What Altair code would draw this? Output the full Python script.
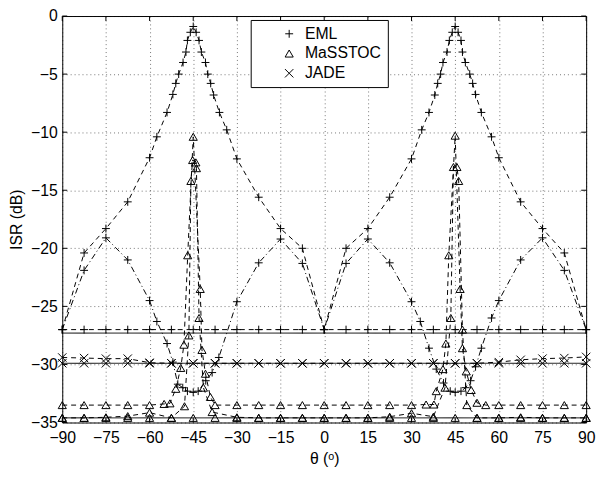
import altair as alt
import pandas as pd

# ---------------- data ----------------
x_ticks = [-90, -75, -60, -45, -30, -15, 0, 15, 30, 45, 60, 75, 90]
y_ticks = [-35, -30, -25, -20, -15, -10, -5, 0]

grid_theta = [-90, -82.5, -75, -67.5, -60, -52.5, -45, -37.5, -30, -22.5, -15, -7.5, 0,
              7.5, 15, 22.5, 30, 37.5, 45, 52.5, 60, 67.5, 75, 82.5, 90]

# EML, curve peaking at +-45 (dashed)
eml_a_theta = [-90, -82.5, -75, -67.5, -60, -57.5, -54, -52, -51, -50, -48.5, -47.5, -47, -46, -45,
               -44, -43, -42.2, -40.8, -40, -39, -38, -36, -33.5, -30, -22.5, -15, -7.5, 0,
               7.5, 15, 22.5, 30, 33.5, 36, 38, 39, 40, 40.8, 42.2, 43, 44, 45,
               46, 47, 47.5, 48.5, 50, 51, 52, 54, 57.5, 60, 67.5, 75, 82.5, 90]
eml_a_isr = [-27, -20.4, -18.3, -16, -12.2, -10.4, -8.3, -6.75, -5.8, -5.0, -4.0, -3.1, -2.1, -1.4, -0.9,
             -1.4, -2.1, -3.1, -4.0, -5.0, -5.8, -6.8, -8.3, -9.8, -12.3, -15.6, -18.3, -20.0, -27,
             -20.0, -18.3, -15.6, -12.3, -9.8, -8.3, -6.8, -5.8, -5.0, -4.0, -3.1, -2.1, -1.4, -0.9,
             -1.4, -2.1, -3.1, -4.0, -5.0, -5.8, -6.75, -8.3, -10.4, -12.2, -16, -18.3, -20.4, -27]

# EML, curve with minima at +-45 (dash-dot)
eml_b_theta = [-90, -82.5, -75, -67.5, -60, -57.5, -54, -52, -50.3, -48.6, -47, -45, -43.3, -40.7,
               -38.5, -36.2, -30, -22.5, -15, -7.5, 0,
               7.5, 15, 22.5, 30, 33, 36, 38.5, 41, 43.3, 45, 47, 48.6, 50.3, 52, 54, 57.5,
               60, 67.5, 75, 82.5, 90]
eml_b_isr = [-27, -21.9, -19.1, -21, -24.5, -26.3, -28.2, -29.8, -31.7, -32.0, -32.3, -32.4, -32.3, -31.4,
             -30.7, -29.4, -24.6, -21.25, -19.2, -21.3, -27,
             -21.3, -19.2, -21.25, -24.6, -26.3, -28.6, -30.4, -31.6, -32.3, -32.4, -32.3, -32.0, -31.4,
             -30.2, -28.6, -26.0, -24.5, -21, -19.1, -21.9, -27]

# EML, flat level (dashed, markers) and solid level
eml_flat_isr = [-27.0, -27.0, -27.0, -27.0, -27.0, -27.0, -27.0, -27.0, -27.0, -27.0, -27.0, -27.0, -27.0,
                -27.0, -27.0, -27.0, -27.0, -27.0, -27.0, -27.0, -27.0, -27.0, -27.0, -27.0, -27.0]
eml_solid_theta = [-90, 90]
eml_solid_isr = [-27.3, -27.3]

# JADE
jade_solid_isr = [-29.9, -29.9, -29.9, -29.9, -29.9, -29.9, -29.9, -29.9, -29.9, -29.9, -29.9, -29.9, -29.9,
                  -29.9, -29.9, -29.9, -29.9, -29.9, -29.9, -29.9, -29.9, -29.9, -29.9, -29.9, -29.9]
jade_dash_isr = [-29.4, -29.45, -29.5, -29.5, -29.85, -29.9, -29.9, -29.9, -29.9, -29.9, -29.9, -29.9, -29.9,
                 -29.9, -29.9, -29.9, -29.9, -29.9, -29.9, -29.9, -29.8, -29.6, -29.5, -29.45, -29.35]

# MaSSTOC
mas_solid_isr = [-34.6, -34.6, -34.6, -34.6, -34.6, -34.6, -34.6, -34.6, -34.6, -34.6, -34.6, -34.6, -34.6,
                 -34.6, -34.6, -34.6, -34.6, -34.6, -34.6, -34.6, -34.6, -34.6, -34.6, -34.6, -34.6]
mas_a_theta = [-90, -82.5, -75, -67.5, -60, -55, -53, -51, -49.3, -48.2, -46.9, -45, -42.6, -42, -40.8,
               -39.1, -37.5, -30, -22.5, -15, -7.5, 0, 7.5, 15, 22.5, 30, 35, 37.7, 38.5, 40.8,
               41.8, 42.8, 45, 46.7, 47.5, 48.8, 50.5, 52.5, 55.5, 60, 67.5, 75, 82.5, 90]
mas_a_isr = [-33.5, -33.5, -33.5, -33.5, -33.5, -33.4, -33.35, -32.1, -30.3, -28.3, -20.6, -10.4, -23.5, -28.75, -30.8,
             -32.8, -33.5, -33.5, -33.5, -33.5, -33.5, -33.5, -33.5, -33.5, -33.5, -33.5, -33.45, -33.45, -32.3, -30.4,
             -28.2, -20.6, -10.3, -23.5, -28.6, -30.6, -32.2, -33.3, -33.5, -33.5, -33.5, -33.5, -33.5, -33.5]
mas_b_theta = [-90, -82.5, -75, -67.5, -60, -52.5, -48, -46.5, -45.8, -45.2, -44.1, -43.9, -43, -41.5, -38.5,
               -30, -22.5, -15, -7.5, 0, 7.5, 15, 22.5, 30, 37.5, 41.5, 43.5, 44.4, 45.6, 46.2,
               47.5, 49, 52.5, 60, 67.5, 75, 82.5, 90]
mas_b_isr = [-34.6, -34.6, -34.55, -34.45, -34.15, -34.6, -33.6, -27.5, -14.2, -12.4, -12.6, -13.1, -26, -32, -34.1,
             -34.55, -34.6, -34.6, -34.6, -34.6, -34.6, -34.6, -34.5, -34.2, -34.5, -32, -26, -13, -13, -14.2,
             -27, -33.5, -34.6, -34.6, -34.55, -34.6, -34.6, -34.6]

methods = ["EML", "MaSSTOC", "JADE"]

series = [
    ("eml_a", "EML", "dashed", eml_a_theta, eml_a_isr, True),
    ("eml_b", "EML", "dashdot", eml_b_theta, eml_b_isr, True),
    ("eml_flat", "EML", "dashed", grid_theta, eml_flat_isr, True),
    ("eml_solid", "EML", "solid", eml_solid_theta, eml_solid_isr, False),
    ("jade_solid", "JADE", "solid", grid_theta, jade_solid_isr, True),
    ("jade_dash", "JADE", "dashed", grid_theta, jade_dash_isr, True),
    ("mas_solid", "MaSSTOC", "solid", grid_theta, mas_solid_isr, True),
    ("mas_a", "MaSSTOC", "dashed", mas_a_theta, mas_a_isr, True),
    ("mas_b", "MaSSTOC", "dashed", mas_b_theta, mas_b_isr, True),
]

rows = []
for sid, method, style, th, vals, mk in series:
    for t, v in zip(th, vals):
        rows.append({"sid": sid, "method": method, "style": style,
                     "theta": t, "isr": v, "mk": mk})
df = pd.DataFrame(rows)
pts_df = df[df["mk"]].copy()

xt_df = pd.DataFrame({"theta": x_ticks})
yt_df = pd.DataFrame({"isr": y_ticks})

# ---------------- chart ----------------
W, H = 531, 412
FONT = "Liberation Sans"

xs = alt.X("theta:Q",
           scale=alt.Scale(domain=[-90, 90], nice=False, zero=False),
           axis=alt.Axis(values=x_ticks, title="θ (ᵒ)", grid=True, ticks=False, domain=False,
                         labelFlush=False, labelOverlap=False, labelPadding=7, titlePadding=6))
ys = alt.Y("isr:Q",
           scale=alt.Scale(domain=[-35, 0], nice=False, zero=False),
           axis=alt.Axis(values=y_ticks, title="ISR (dB)", grid=True, ticks=False, domain=False,
                         labelPadding=5, titlePadding=6))

plus_path = "M-1,0L1,0M0,-1L0,1"
x_path = "M-1,-1L1,1M1,-1L-1,1"

lines = alt.Chart(df).mark_line(color="black", strokeWidth=1).encode(
    x=xs, y=ys, detail="sid:N", order="theta:Q",
    strokeDash=alt.StrokeDash("style:N",
                              scale=alt.Scale(domain=["solid", "dashed", "dashdot"],
                                              range=[[1, 0], [5, 4], [6, 3, 1, 3]]),
                              legend=None),
)

leg = alt.Legend(title=".", titleOrient="left", titleColor="white", titleFontSize=16,
                 titlePadding=10,
                 orient="none", legendX=191, legendY=4, direction="vertical",
                 strokeColor="black", fillColor="white", padding=6,
                 labelFont=FONT, labelFontSize=16, labelColor="black",
                 symbolStrokeColor="black", symbolStrokeWidth=1, symbolFillColor="transparent",
                 symbolOffset=10, labelOffset=8, rowPadding=4)

points = alt.Chart(pts_df).mark_point(filled=False, color="black", strokeWidth=1, opacity=1).encode(
    x=xs, y=ys,
    shape=alt.Shape("method:N", scale=alt.Scale(domain=methods, range=[plus_path, "triangle-up", x_path]),
                    legend=leg),
    size=alt.Size("method:N", scale=alt.Scale(domain=methods, range=[64, 72, 20]), legend=leg),
)

tick_top = alt.Chart(xt_df).mark_rule(color="black", strokeWidth=1).encode(
    x=xs, y=alt.value(0), y2=alt.value(5))
tick_bot = alt.Chart(xt_df).mark_rule(color="black", strokeWidth=1).encode(
    x=xs, y=alt.value(H), y2=alt.value(H - 5))
tick_left = alt.Chart(yt_df).mark_rule(color="black", strokeWidth=1).encode(
    y=ys, x=alt.value(0), x2=alt.value(5))
tick_right = alt.Chart(yt_df).mark_rule(color="black", strokeWidth=1).encode(
    y=ys, x=alt.value(W - 5), x2=alt.value(W))

chart = alt.layer(lines, points, tick_top, tick_bot, tick_left, tick_right).properties(
    width=W, height=H,
    padding={"left": 55, "top": 5, "right": 11, "bottom": 46},
    autosize=alt.AutoSizeParams(type="none"),
).configure_view(
    stroke="black", strokeWidth=1
).configure_axis(
    labelFont=FONT, labelFontSize=16, labelColor="black",
    titleFont=FONT, titleFontSize=16, titleFontWeight="normal", titleColor="black",
    gridColor="black", gridOpacity=0.55, gridDash=[1, 3], gridWidth=1,
)

chart.save("out.html", embed_options={"renderer": "svg", "actions": False})
